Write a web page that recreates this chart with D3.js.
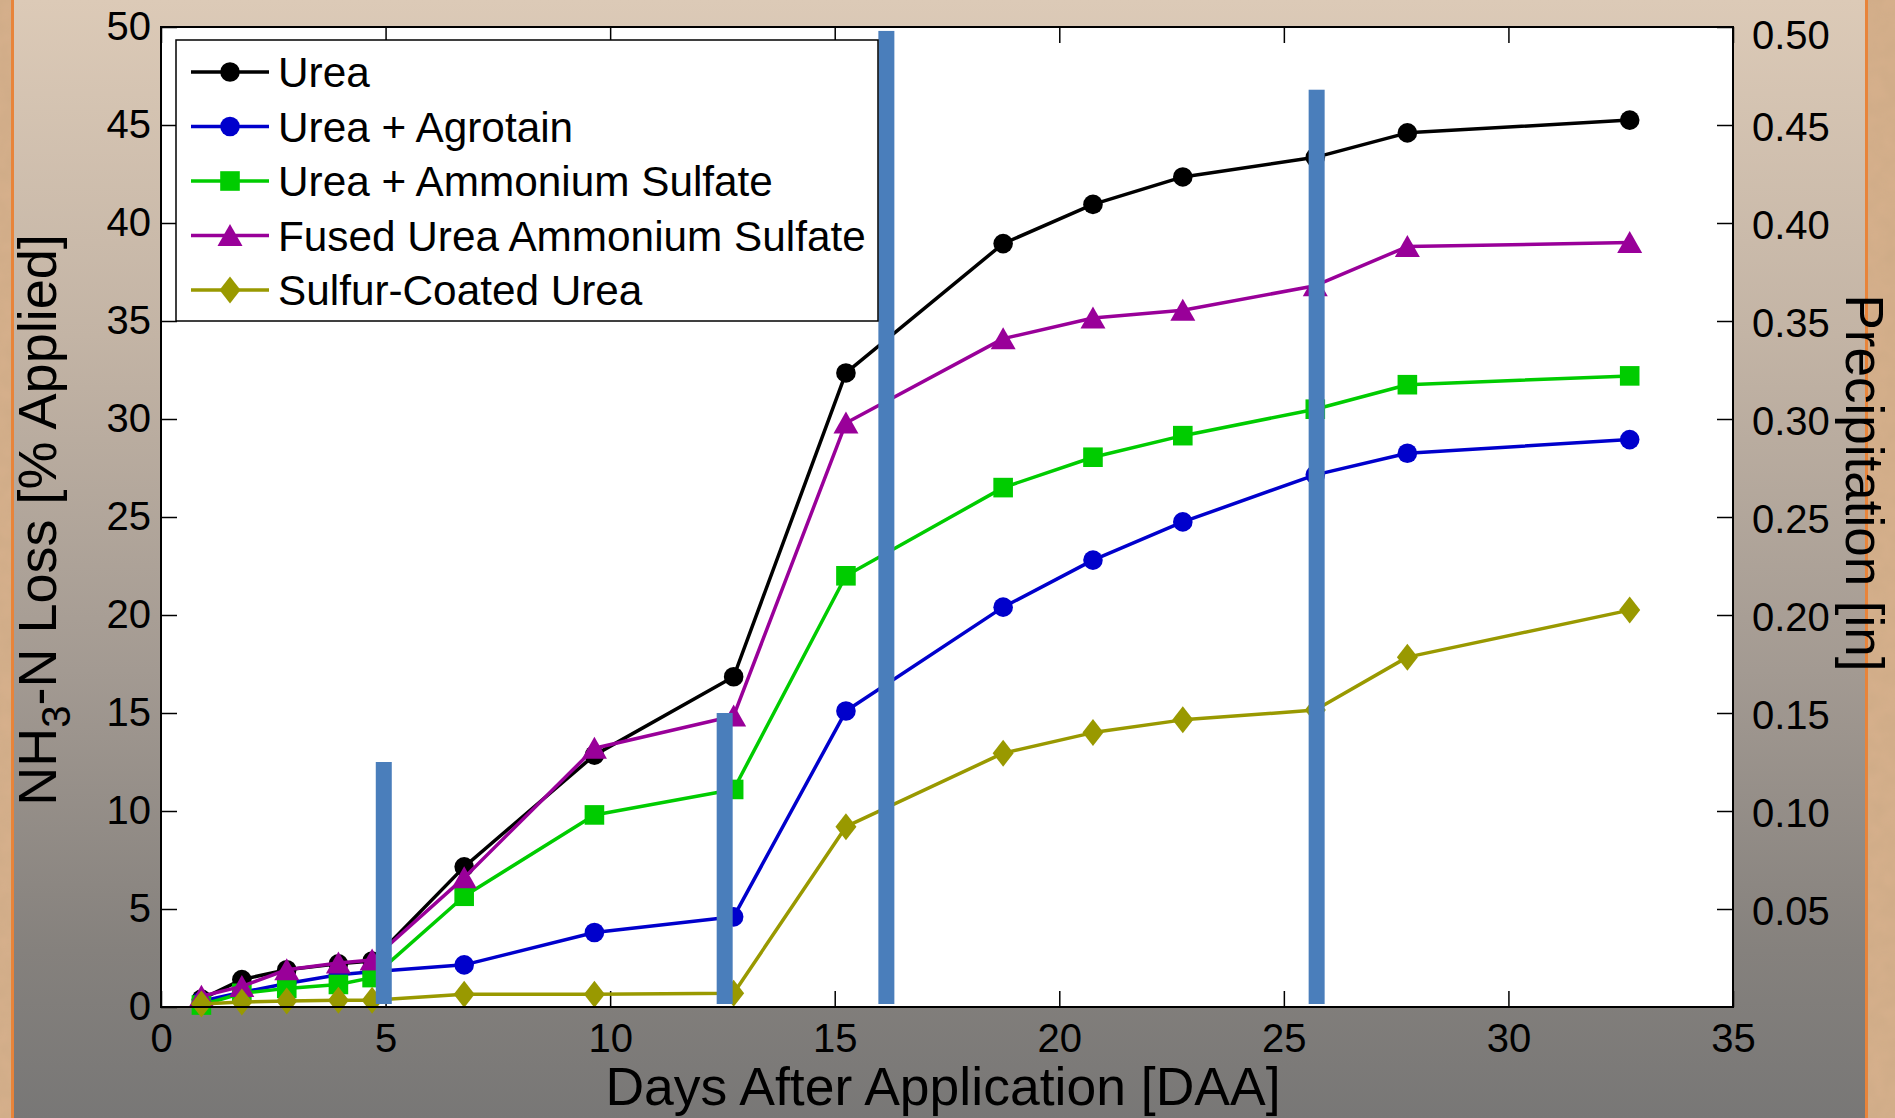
<!DOCTYPE html>
<html>
<head>
<meta charset="utf-8">
<script src="https://cdn.jsdelivr.net/npm/d3@7/dist/d3.min.js"></script>
<style>
	html, body { margin: 0; padding: 0; background: #7a7876; overflow: hidden; }
	svg text { font-family: "Liberation Sans", Arial, sans-serif; fill: #000; }
</style>
</head>
<body>
<div id="chart"></div>
<script>
(function () {'use strict';

// DATA
var days       = [0.9, 1.8, 2.8, 3.95, 4.7, 6.75, 9.65, 12.75, 15.25, 18.75, 20.75, 22.75, 25.7, 27.75, 32.7];
var urea       = [0.4, 1.4, 1.9, 2.2, 2.35, 7.15, 12.85, 16.85, 32.35, 38.95, 40.95, 42.35, 43.35, 44.6, 45.25];
var agrotain   = [0.3, 0.75, 1.2, 1.65, 1.8, 2.15, 3.8, 4.6, 15.1, 20.4, 22.8, 24.75, 27.15, 28.25, 28.95];
var ammSulfate = [0.1, 0.7, 0.95, 1.15, 1.5, 5.65, 9.8, 11.1, 22.0, 26.5, 28.05, 29.15, 30.5, 31.75, 32.2];
var fusedUAS   = [0.55, 1.05, 1.9, 2.25, 2.4, 6.6, 13.2, 14.85, 29.8, 34.1, 35.15, 35.55, 36.8, 38.8, 39.0];
var sulfurCU   = [0.15, 0.25, 0.3, 0.35, 0.35, 0.65, 0.65, 0.7, 9.2, 12.95, 14.0, 14.65, 15.15, 17.85, 20.25];

var rainDays   = [4.96, 12.55, 16.15, 25.73];
var rainInches = [0.125, 0.15, 0.498, 0.468];

var seriesNames = ['Urea', 'Urea + Agrotain', 'Urea + Ammonium Sulfate', 'Fused Urea Ammonium Sulfate', 'Sulfur-Coated Urea'];
var seriesData  = [urea, agrotain, ammSulfate, fusedUAS, sulfurCU];
var seriesColor = ['#000000', '#0000cc', '#00cc00', '#990099', '#999900'];
var seriesShape = ['circle', 'circle', 'square', 'triangle', 'diamond'];

var xTicks  = [0, 5, 10, 15, 20, 25, 30, 35];
var yTicks  = [0, 5, 10, 15, 20, 25, 30, 35, 40, 45, 50];
var y2Ticks = [0.05, 0.10, 0.15, 0.20, 0.25, 0.30, 0.35, 0.40, 0.45, 0.50];

var W = 1895, H = 1118,
	margin = { top: 27, right: 162, bottom: 111, left: 161 },
	width  = W - margin.left - margin.right,
	height = H - margin.top - margin.bottom,
	tickLen = 16,
	barWidth = 16;

var x  = d3.scaleLinear().domain([0, 35]).range([0, width]),
	y  = d3.scaleLinear().domain([0, 50]).range([height, 0]),
	y2 = d3.scaleLinear().domain([0, 0.5]).range([height, 0]);

var svg = d3.select('#chart')
	.append('svg')
		.attr('width', W)
		.attr('height', H);

/* BACKGROUND */
var defs = svg.append('defs');
var grad = defs.append('linearGradient')
	.attr('id', 'bg')
	.attr('x1', 0).attr('y1', 0).attr('x2', 0).attr('y2', 1);
grad.append('stop').attr('offset', '0%').attr('stop-color', '#dccab7');
grad.append('stop').attr('offset', '30%').attr('stop-color', '#c3b4a5');
grad.append('stop').attr('offset', '60%').attr('stop-color', '#a39a92');
grad.append('stop').attr('offset', '85%').attr('stop-color', '#85817d');
grad.append('stop').attr('offset', '100%').attr('stop-color', '#787776');

var noise = defs.append('filter').attr('id', 'grain');
noise.append('feTurbulence')
	.attr('type', 'fractalNoise')
	.attr('baseFrequency', '0.06')
	.attr('numOctaves', 2)
	.attr('result', 'n');
noise.append('feColorMatrix')
	.attr('in', 'n')
	.attr('type', 'matrix')
	.attr('values', '0 0 0 0 0.55  0 0 0 0 0.38  0 0 0 0 0.22  0 0 0 0.45 0');
noise.append('feComposite').attr('in2', 'SourceGraphic').attr('operator', 'in');

svg.append('rect')
	.attr('width', W)
	.attr('height', H)
	.attr('fill', 'url(#bg)');

// side strips
[[0, 11], [1868, 27]].forEach(function (s) {
	svg.append('rect')
		.attr('x', s[0]).attr('y', 0)
		.attr('width', s[1]).attr('height', H)
		.attr('fill', '#d7b08c');
	svg.append('rect')
		.attr('x', s[0]).attr('y', 0)
		.attr('width', s[1]).attr('height', H)
		.attr('fill', '#d7b08c')
		.attr('filter', 'url(#grain)');
});
svg.append('rect').attr('x', 11).attr('y', 0).attr('width', 3).attr('height', H).attr('fill', '#e8843a');
svg.append('rect').attr('x', 1865).attr('y', 0).attr('width', 3).attr('height', H).attr('fill', '#e8843a');

var chart = svg.append('g')
	.attr('transform', 'translate(' + margin.left + ',' + margin.top + ')');

// plot area
chart.append('rect')
	.attr('width', width)
	.attr('height', height)
	.attr('fill', '#fff');

/* AXES */
chart.append('g')
	.attr('class', 'x axis')
	.attr('transform', 'translate(0,' + height + ')')
	.call(d3.axisBottom(x).tickValues(xTicks).tickSize(-tickLen).tickPadding(17));

chart.append('g')
	.attr('class', 'x2 axis')
	.call(d3.axisTop(x).tickValues(xTicks).tickSize(-tickLen).tickFormat(''));

chart.append('g')
	.attr('class', 'y axis')
	.call(d3.axisLeft(y).tickValues(yTicks).tickSize(-tickLen).tickPadding(10));

chart.append('g')
	.attr('class', 'y2 axis')
	.attr('transform', 'translate(' + width + ',0)')
	.call(d3.axisRight(y2).tickValues(y2Ticks).tickSize(-tickLen).tickPadding(19).tickFormat(d3.format('.2f')));

chart.selectAll('.axis .domain').remove();
chart.selectAll('.axis line')
	.attr('stroke', '#000')
	.attr('stroke-width', 1.5);
chart.selectAll('.axis text')
	.attr('font-size', 40)
	.attr('font-family', '"Liberation Sans", Arial, sans-serif')
	.attr('fill', '#000');

// right labels sit a little low, the top one pushed down to stay inside
chart.selectAll('.y2.axis text')
	.attr('y', function (d) { return d === 0.5 ? 9 : 3; });

/* SERIES */
function markerPath(shape) {
	if (shape === 'circle')   { return d3.symbol(d3.symbolCircle, Math.PI * 9.8 * 9.8)(); }
	if (shape === 'square')   { return 'M-9.8,-9.8H9.8V9.8H-9.8Z'; }
	if (shape === 'triangle') { return 'M0,-11.5L12.5,10.5L-12.5,10.5Z'; }
	return 'M0,-13.5L10.5,0L0,13.5L-10.5,0Z';
}

var line = d3.line()
	.x(function (d, i) { return x(days[i]); })
	.y(function (d) { return y(d); });

seriesData.forEach(function (vals, k) {
	chart.append('path')
		.attr('class', 'line')
		.attr('d', line(vals))
		.attr('fill', 'none')
		.attr('stroke', seriesColor[k])
		.attr('stroke-width', 3.5)
		.attr('stroke-linejoin', 'round');

	chart.selectAll('.mk' + k)
		.data(vals)
		.enter().append('path')
			.attr('class', 'mk' + k)
			.attr('transform', function (d, i) { return 'translate(' + x(days[i]) + ',' + y(d) + ')'; })
			.attr('d', markerPath(seriesShape[k]))
			.attr('fill', seriesColor[k]);
});

/* PRECIPITATION BARS */
chart.selectAll('.bar')
	.data(rainInches)
	.enter().append('rect')
		.attr('class', 'bar')
		.attr('x', function (d, i) { return x(rainDays[i]) - barWidth / 2; })
		.attr('y', function (d) { return y2(d); })
		.attr('width', barWidth)
		.attr('height', function (d) { return y2(0) - y2(d) - 3; })
		.attr('fill', '#4a7ebb');

// frame
chart.append('rect')
	.attr('width', width)
	.attr('height', height)
	.attr('fill', 'none')
	.attr('stroke', '#000')
	.attr('stroke-width', 2);

/* LEGEND */
var legend = chart.append('g')
	.attr('transform', 'translate(' + (176 - margin.left) + ',' + (40 - margin.top) + ')');

legend.append('rect')
	.attr('width', 702)
	.attr('height', 281)
	.attr('fill', '#fff')
	.attr('stroke', '#000')
	.attr('stroke-width', 1.5);

seriesNames.forEach(function (name, k) {
	var row = legend.append('g')
		.attr('transform', 'translate(0,' + (32 + k * 54.5) + ')');
	row.append('line')
		.attr('x1', 15).attr('x2', 93)
		.attr('stroke', seriesColor[k])
		.attr('stroke-width', 3.5);
	row.append('path')
		.attr('transform', 'translate(54,0)')
		.attr('d', markerPath(seriesShape[k]))
		.attr('fill', seriesColor[k]);
	row.append('text')
		.attr('x', 102)
		.attr('y', 15)
		.attr('font-size', 42.3)
		.text(name);
});

/* LABELS */
svg.append('text')
	.attr('x', 943)
	.attr('y', 1105)
	.attr('text-anchor', 'middle')
	.attr('font-size', 53.5)
	.text('Days After Application [DAA]');

var yl = svg.append('text')
	.attr('transform', 'translate(56,520) rotate(-90)')
	.attr('text-anchor', 'middle')
	.attr('font-size', 54);
yl.append('tspan').text('NH');
yl.append('tspan').attr('font-size', 40).attr('dy', 14).text('3');
yl.append('tspan').attr('dy', -14).text('-N Loss [% Applied]');

svg.append('text')
	.attr('transform', 'translate(1846,483) rotate(90)')
	.attr('text-anchor', 'middle')
	.attr('font-size', 53)
	.text('Precipitation [in]');

})();
</script>
</body>
</html>
